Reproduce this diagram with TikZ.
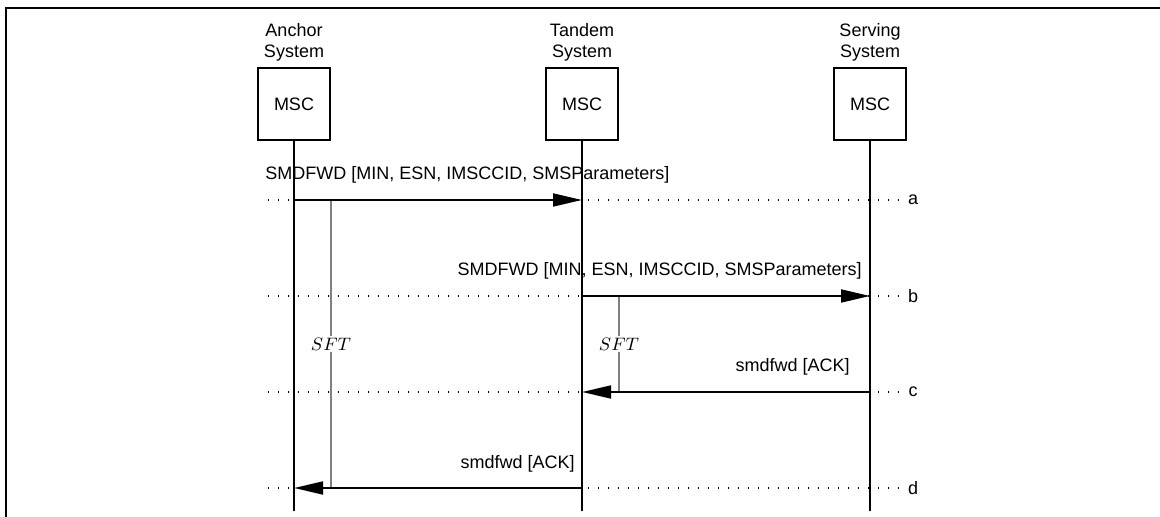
\documentclass[tikz,border=0pt]{standalone}
\usepackage{fontspec}
\setmainfont{Liberation Sans}
\usetikzlibrary{arrows.meta}

\begin{document}
\begin{tikzpicture}[x=0.5pt,y=-0.5pt,
  every node/.style={font=\fontsize{9}{10.5}\selectfont},
  head/.style={align=center,inner sep=0pt},
  mscbox/.style={draw,line width=0.75pt,minimum width=36pt,minimum height=36pt,inner sep=0pt},
  life/.style={line width=0.7pt},
  msg/.style={line width=1.2pt,-{Triangle[length=14.5pt,width=6.4pt]}},
  dots/.style={line width=0.6pt,dash pattern=on 0.5pt off 4.5pt},
  timer/.style={line width=0.7pt,draw=black!50},
  sft/.style={fill=white,inner sep=1pt,font=\fontsize{9}{10}\selectfont}]
  \useasboundingbox (0,0) rectangle (1160,517);
  \draw[line width=1.4pt] (6,517) -- (6,8) -- (1160,8);
  % systems
  \node[head] (hA) at (294,42) {Anchor\\System};
  \node[head] (hT) at (582,42) {Tandem\\System};
  \node[head] (hS) at (870,42) {Serving\\System};
  \node[mscbox] (anc) at (294,104) {MSC};
  \node[mscbox] (tan) at (582,104) {MSC};
  \node[mscbox] (srv) at (870,104) {MSC};
  \coordinate (ancEnd) at (294,511);
  \coordinate (tanEnd) at (582,511);
  \coordinate (srvEnd) at (870,511);
  \draw[life] (anc.south) -- (ancEnd);
  \draw[life] (tan.south) -- (tanEnd);
  \draw[life] (srv.south) -- (srvEnd);
  % message rows
  \coordinate (La) at (268,200); \coordinate (Ra) at (905,200);
  \coordinate (Lb) at (268,296); \coordinate (Rb) at (905,296);
  \coordinate (Lc) at (268,392); \coordinate (Rc) at (905,392);
  \coordinate (Ld) at (268,488); \coordinate (Rd) at (905,488);
  \draw[dots] (La) -- (Ra);
  \draw[dots] (Lb) -- (Rb);
  \draw[dots] (Lc) -- (Rc);
  \draw[dots] (Ld) -- (Rd);
  \node (ra) at (913,200) {a};
  \node (rb) at (913,296) {b};
  \node (rc) at (913,392) {c};
  \node (rd) at (913,488) {d};
  \coordinate (A1) at (294,200); \coordinate (T1) at (582,200);
  \coordinate (T2) at (582,296); \coordinate (S2) at (870,296);
  \coordinate (S3) at (870,392); \coordinate (T3) at (582,392);
  \coordinate (T4) at (582,488); \coordinate (A4) at (294,488);
  % timers
  \coordinate (tA1) at (331,200); \coordinate (tA2) at (331,488);
  \coordinate (tT1) at (619,296); \coordinate (tT2) at (619,392);
  \draw[timer] (tA1) -- node[sft] (sftA) {$SFT$} (tA2);
  \draw[timer] (tT1) -- node[sft] (sftT) {$SFT$} (tT2);
  % messages
  \draw[msg] (A1) -- (T1);
  \draw[msg] (T2) -- (S2);
  \draw[msg] (S3) -- (T3);
  \draw[msg] (T4) -- (A4);
  \node[anchor=base west,inner sep=0pt] (ma) at (265,180) {SMDFWD [MIN, ESN, IMSCCID, SMSParameters]};
  \node[anchor=base east,inner sep=0pt] (mb) at (862,276) {SMDFWD [MIN, ESN, IMSCCID, SMSParameters]};
  \node[anchor=base east,inner sep=0pt] (mc) at (850,372) {smdfwd [ACK]};
  \node[anchor=base east,inner sep=0pt] (md) at (575,468) {smdfwd [ACK]};
\end{tikzpicture}
\end{document}
